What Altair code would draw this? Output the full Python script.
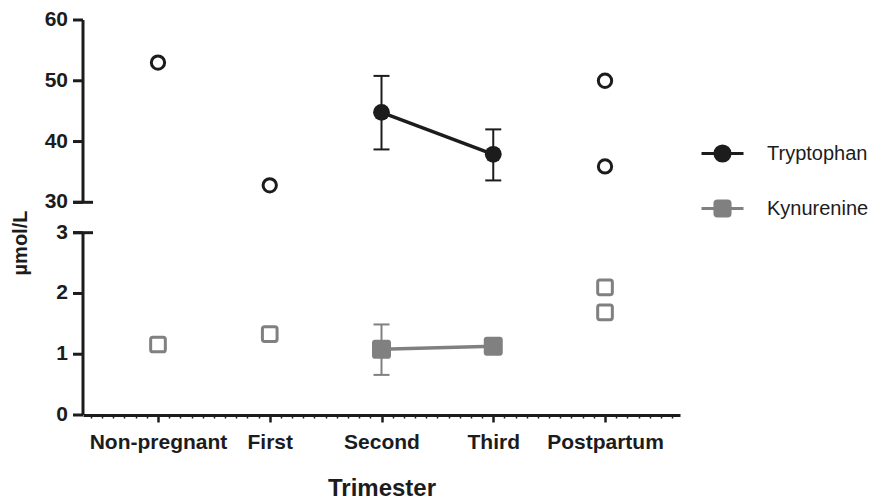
import altair as alt
import pandas as pd

# ---------------- data ----------------
categories = ["Non-pregnant", "First", "Second", "Third", "Postpartum"]
series_names = ["Tryptophan", "Kynurenine"]

# individual values (open symbols)
trp_ind_cat = ["Non-pregnant", "First", "Postpartum", "Postpartum"]
trp_ind_val = [53.0, 32.8, 50.0, 35.9]
kyn_ind_cat = ["Non-pregnant", "First", "Postpartum", "Postpartum"]
kyn_ind_val = [1.16, 1.33, 2.10, 1.69]

# means with error bars (filled symbols)
trp_mean_cat = ["Second", "Third"]
trp_mean_val = [44.8, 37.9]
trp_mean_lo = [38.7, 33.6]
trp_mean_hi = [50.8, 42.0]
kyn_mean_cat = ["Second", "Third"]
kyn_mean_val = [1.08, 1.13]
kyn_mean_lo = [0.66, None]
kyn_mean_hi = [1.49, None]

# broken y axis: lower segment (Kynurenine) and upper segment (Tryptophan)
lower_ticks = [0, 1, 2, 3]
upper_ticks = [30, 40, 50, 60]
y_title = "µmol/L"
x_title = "Trimester"

# ---------------- style ----------------
BLACK = "#1c1c1c"
GRAY = "#808080"
FONT = "Liberation Sans"
GAP = 0.5
ratio = (upper_ticks[-1] - upper_ticks[0]) / (lower_ticks[-1] - lower_ticks[0])
brk = lower_ticks[-1] + GAP


def ymap(field):
    return (f"datum.series == 'Tryptophan' ? {brk} + (datum.{field} - {upper_ticks[0]}) / {ratio}"
            f" : datum.{field}")


rows = []
for c, v in zip(trp_ind_cat, trp_ind_val):
    rows.append(dict(series="Tryptophan", kind="ind", idx=categories.index(c), value=v, lo=None, hi=None))
for c, v in zip(kyn_ind_cat, kyn_ind_val):
    rows.append(dict(series="Kynurenine", kind="ind", idx=categories.index(c), value=v, lo=None, hi=None))
for c, v, lo, hi in zip(trp_mean_cat, trp_mean_val, trp_mean_lo, trp_mean_hi):
    rows.append(dict(series="Tryptophan", kind="mean", idx=categories.index(c), value=v, lo=lo, hi=hi))
for c, v, lo, hi in zip(kyn_mean_cat, kyn_mean_val, kyn_mean_lo, kyn_mean_hi):
    rows.append(dict(series="Kynurenine", kind="mean", idx=categories.index(c), value=v, lo=lo, hi=hi))
df = pd.DataFrame(rows)

seg_df = pd.DataFrame({
    "series": ["Kynurenine", "Tryptophan"],
    "lo": [lower_ticks[0], upper_ticks[0]],
    "hi": [lower_ticks[-1], upper_ticks[-1]],
})
ytick_df = pd.DataFrame({
    "series": ["Kynurenine"] * len(lower_ticks) + ["Tryptophan"] * len(upper_ticks),
    "value": lower_ticks + upper_ticks,
    "label": [str(t) for t in lower_ticks + upper_ticks],
})

n = len(categories)
xpad = 0.671
xscale = alt.Scale(domain=[-xpad, n - 1 + xpad], nice=False, zero=False)
ytop = brk + (upper_ticks[-1] - upper_ticks[0]) / ratio
yscale = alt.Scale(domain=[lower_ticks[0], ytop], nice=False, zero=False)

label_list = "[" + ",".join('"%s"' % c for c in categories) + "]"

main_x_axis = alt.Axis(
    values=list(range(n)), labelExpr=f"{label_list}[round(datum.value)]",
    title=x_title, orient="bottom", grid=False,
    domainWidth=3, domainColor=BLACK, tickWidth=2.5, tickSize=7, tickColor=BLACK,
    labelFont=FONT, labelFontWeight="bold", labelFontSize=21, labelColor=BLACK,
    labelPadding=9, labelFlush=False, labelOverlap=False,
    titleFont=FONT, titleFontWeight="bold", titleFontSize=24, titleColor=BLACK, titlePadding=24,
)
minor_vals = [round(-0.6 + 0.1 * i, 2) for i in range(int((n - 1 + 1.2) * 10) + 1)]
minor_vals = [v for v in minor_vals if abs(v - round(v)) > 1e-6]
minor_x_axis = alt.Axis(
    values=minor_vals, orient="bottom", labels=False, domain=False, title=None, grid=False,
    tickSize=3, tickWidth=1.5, tickColor=BLACK,
)

base = alt.Chart(df).transform_calculate(yp=ymap("value"), ylo=ymap("lo"), yhi=ymap("hi"))


def sel(series, kind):
    return f"datum.series == '{series}' && datum.kind == '{kind}'"


xenc = alt.X("idx:Q", scale=xscale, axis=None)
yenc = alt.Y("yp:Q", scale=yscale, axis=None)

RSQ = ("M-0.7,-1L0.7,-1A0.3,0.3,0,0,1,1,-0.7L1,0.7A0.3,0.3,0,0,1,0.7,1L-0.7,1"
       "A0.3,0.3,0,0,1,-1,0.7L-1,-0.7A0.3,0.3,0,0,1,-0.7,-1Z")

# ---- broken y axis drawn from the tick arrays ----
y_segments = alt.Chart(seg_df).transform_calculate(ylo=ymap("lo"), yhi=ymap("hi")).mark_rule(
    strokeWidth=3, color=BLACK).encode(
    x=alt.value(0), y=alt.Y("ylo:Q", scale=yscale, axis=None), y2="yhi:Q")

caps = alt.Chart(seg_df).transform_calculate(
    yc=f"datum.series == 'Tryptophan' ? {brk} : datum.hi").mark_rule(
    strokeWidth=3, color=BLACK).encode(
    x=alt.value(-10), x2=alt.value(10), y=alt.Y("yc:Q", scale=yscale, axis=None))

ytick_base = alt.Chart(ytick_df).transform_calculate(yp=ymap("value"))
y_ticks = ytick_base.mark_rule(strokeWidth=3, color=BLACK).encode(
    x=alt.value(-10), x2=alt.value(0), y=alt.Y("yp:Q", scale=yscale, axis=None))
y_labels = ytick_base.mark_text(
    align="right", baseline="middle", font=FONT, fontSize=21, fontWeight="bold", color=BLACK).encode(
    x=alt.value(-15), y=alt.Y("yp:Q", scale=yscale, axis=None), text="label:N")
y_title_mark = alt.Chart(pd.DataFrame({"t": [y_title]})).mark_text(
    angle=270, align="center", baseline="middle", font=FONT, fontSize=20, fontWeight="bold",
    color=BLACK).encode(x=alt.value(-62), y=alt.value(223), text="t:N")

trp_open = base.transform_filter(sel("Tryptophan", "ind")).mark_point(
    shape="circle", filled=False, size=177, strokeWidth=3, color=BLACK, opacity=1).encode(
    x=alt.X("idx:Q", scale=xscale, axis=main_x_axis), y=yenc)

kyn_open = base.transform_filter(sel("Kynurenine", "ind")).mark_point(
    shape=RSQ, filled=False, size=215, strokeWidth=3, color=GRAY, opacity=1).encode(
    x=alt.X("idx:Q", scale=xscale, axis=minor_x_axis), y=yenc)


def mean_layers(series, color, shape, size):
    f = base.transform_filter(sel(series, "mean"))
    line = f.mark_line(color=color, strokeWidth=3.5).encode(x=xenc, y=yenc)
    eb = f.transform_filter("isValid(datum.lo)")
    rule = eb.mark_rule(color=color, strokeWidth=2).encode(
        x=xenc, y=alt.Y("ylo:Q", scale=yscale, axis=None), y2="yhi:Q")
    cap_lo = eb.mark_tick(orient="horizontal", color=color, thickness=2, size=16, opacity=1).encode(
        x=xenc, y=alt.Y("ylo:Q", scale=yscale, axis=None))
    cap_hi = eb.mark_tick(orient="horizontal", color=color, thickness=2, size=16, opacity=1).encode(
        x=xenc, y=alt.Y("yhi:Q", scale=yscale, axis=None))
    pts = f.mark_point(shape=shape, filled=True, size=size, color=color, opacity=1).encode(x=xenc, y=yenc)
    return [rule, cap_lo, cap_hi, line, pts]


CIRC_LEG = "M-1,0L1,0M0.36,0A0.36,0.36,0,1,1,-0.36,0A0.36,0.36,0,1,1,0.36,0Z"
SQ_LEG = ("M-1,0L1,0M-0.24,-0.36L0.24,-0.36A0.12,0.12,0,0,1,0.36,-0.24L0.36,0.24"
          "A0.12,0.12,0,0,1,0.24,0.36L-0.24,0.36A0.12,0.12,0,0,1,-0.36,0.24L-0.36,-0.24"
          "A0.12,0.12,0,0,1,-0.24,-0.36Z")

leg = alt.Legend(
    title=None, orient="none", legendX=617, legendY=111, padding=0,
    labelFont=FONT, labelFontSize=20, labelColor=BLACK, labelOffset=22,
    rowPadding=18, symbolSize=1764, symbolStrokeWidth=3, symbolOpacity=1,
)
cscale = alt.Scale(domain=series_names, range=[BLACK, GRAY])
legend_layer = alt.Chart(pd.DataFrame({"series": series_names})).transform_filter("false").mark_point(
    filled=True, opacity=1, size=1764, strokeWidth=3).encode(
    color=alt.Color("series:N", scale=cscale, legend=leg),
    stroke=alt.Stroke("series:N", scale=cscale, legend=leg),
    shape=alt.Shape("series:N", scale=alt.Scale(domain=series_names, range=[CIRC_LEG, SQ_LEG]), legend=leg),
)

layers = [y_segments, caps, y_ticks, y_labels, y_title_mark, trp_open, kyn_open]
layers += mean_layers("Tryptophan", BLACK, "circle", 283)
layers += mean_layers("Kynurenine", GRAY, RSQ, 361)
layers += [legend_layer]

chart = alt.layer(*layers).resolve_axis(x="independent").properties(
    width=597, height=395,
    autosize=alt.AutoSizeParams(type="none"),
    padding={"left": 75, "top": 12, "right": 189, "bottom": 86},
).configure(background="white").configure_view(strokeWidth=0, stroke=None)

chart.save("out.html", embed_options={"renderer": "svg", "actions": False})
